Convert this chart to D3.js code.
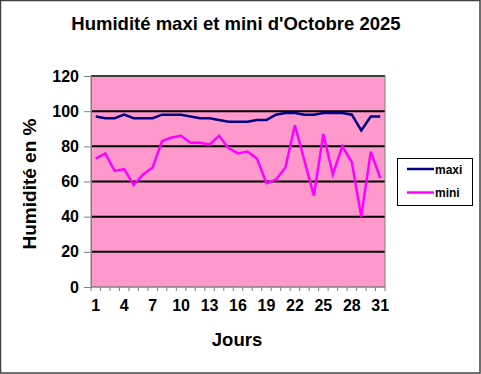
<!DOCTYPE html>
<html>
<head>
<meta charset="utf-8">
<script src="https://cdn.jsdelivr.net/npm/d3@7"></script>
<style>
  body { margin: 0; background: #fff; }
  text { font-family: "Liberation Sans", Arial, sans-serif; font-weight: bold; fill: #000; }
</style>
</head>
<body>
<div id="chart"></div>
<script>
// Humidity data for October 2025
let days = d3.range(1, 32);
let maxi = [97, 96, 96, 98, 96, 96, 96, 98, 98, 98, 97, 96, 96, 95, 94, 94,
            94, 95, 95, 98, 99, 99, 98, 98, 99, 99, 99, 98, 89, 97, 97];
let mini = [73, 76, 66, 67, 58, 64, 68, 83, 85, 86, 82, 82, 81, 86, 79, 76,
            77, 73, 59, 61, 68, 92, 72, 52, 87, 64, 80, 71, 40, 77, 62];
let yTicks = [0, 20, 40, 60, 80, 100, 120];
let xLabels = [1, 4, 7, 10, 13, 16, 19, 22, 25, 28, 31];
let series = [
  { name: "maxi", values: maxi, color: "#000080" },
  { name: "mini", values: mini, color: "#ff00ff" }
];

let width = 481, height = 374;
let plot = { left: 91, right: 385, top: 76, bottom: 287 };

let svg = d3.select("#chart").append("svg")
  .attr("width", width).attr("height", height);

// outer frame
svg.append("rect")
  .attr("x", 0.5).attr("y", 0.5)
  .attr("width", width - 1.5).attr("height", height - 1.5)
  .attr("fill", "#fff").attr("stroke", "#404040").attr("stroke-width", 1.5);

let xScale = d3.scaleBand()
  .domain(days)
  .range([plot.left, plot.right]);

let yScale = d3.scaleLinear()
  .domain([0, 120])
  .range([plot.bottom, plot.top]);

// plot background
svg.append("rect")
  .attr("x", plot.left).attr("y", plot.top)
  .attr("width", plot.right - plot.left).attr("height", plot.bottom - plot.top)
  .attr("fill", "#ff99cc");

// gridlines
svg.append("g")
  .selectAll("line")
  .data(yTicks.filter(d => d > 0))
  .enter()
  .append("line")
  .attr("x1", plot.left).attr("x2", plot.right)
  .attr("y1", d => yScale(d)).attr("y2", d => yScale(d))
  .attr("stroke", "#000").attr("stroke-width", 2);

// plot border
svg.append("rect")
  .attr("x", plot.left).attr("y", plot.top)
  .attr("width", plot.right - plot.left).attr("height", plot.bottom - plot.top)
  .attr("fill", "none").attr("stroke", "#808080").attr("stroke-width", 1);

// y axis
let yAxis = d3.axisLeft(yScale).tickValues(yTicks).tickSize(7).tickPadding(5);
let gy = svg.append("g")
  .attr("transform", "translate(" + plot.left + ",0)")
  .call(yAxis);
gy.select(".domain").attr("stroke", "#808080");
gy.selectAll(".tick line").attr("stroke", "#808080");
gy.selectAll("text").attr("font-size", 16).attr("font-family", null).attr("fill", "#000");

// x axis: minor ticks at category boundaries
let gx = svg.append("g")
  .attr("transform", "translate(0," + plot.bottom + ")");
gx.append("line")
  .attr("x1", plot.left).attr("x2", plot.right)
  .attr("stroke", "#808080");
gx.selectAll(".tk")
  .data(d3.range(0, 32))
  .enter()
  .append("line")
  .attr("class", "tk")
  .attr("x1", i => plot.left + i * xScale.step())
  .attr("x2", i => plot.left + i * xScale.step())
  .attr("y1", 0).attr("y2", 4)
  .attr("stroke", "#808080");
gx.selectAll("text")
  .data(xLabels)
  .enter()
  .append("text")
  .attr("x", d => xScale(d) + xScale.bandwidth() / 2)
  .attr("y", 24)
  .attr("text-anchor", "middle")
  .attr("font-size", 16)
  .text(d => d);

// lines
let line = d3.line()
  .x((d, i) => xScale(days[i]) + xScale.bandwidth() / 2)
  .y(d => yScale(d));

svg.append("g")
  .selectAll(".datapath")
  .data(series)
  .enter()
  .append("path")
  .attr("class", "datapath")
  .attr("d", d => line(d.values))
  .attr("fill", "none")
  .attr("stroke", d => d.color)
  .attr("stroke-width", 2.5)
  .attr("stroke-linejoin", "miter");

// titles
svg.append("text")
  .attr("x", 236).attr("y", 30)
  .attr("text-anchor", "middle")
  .attr("font-size", 18.5)
  .text("Humidité maxi et mini d'Octobre 2025");

svg.append("text")
  .attr("x", 237).attr("y", 346)
  .attr("text-anchor", "middle")
  .attr("font-size", 18.5)
  .text("Jours");

svg.append("text")
  .attr("transform", "translate(35.5,184) rotate(-90)")
  .attr("text-anchor", "middle")
  .attr("font-size", 19)
  .text("Humidité en %");

// legend
let legend = svg.append("g");
legend.append("rect")
  .attr("x", 397.5).attr("y", 158.5)
  .attr("width", 75).attr("height", 47)
  .attr("fill", "#fff").attr("stroke", "#000").attr("stroke-width", 1);
let items = legend.selectAll(".item")
  .data(series)
  .enter()
  .append("g")
  .attr("class", "item")
  .attr("transform", (d, i) => "translate(0," + (169 + i * 23.5) + ")");
items.append("line")
  .attr("x1", 407).attr("x2", 434)
  .attr("stroke", d => d.color).attr("stroke-width", 2.5);
items.append("text")
  .attr("x", 435).attr("y", 4.5)
  .attr("font-size", 12)
  .text(d => d.name);
</script>
</body>
</html>
